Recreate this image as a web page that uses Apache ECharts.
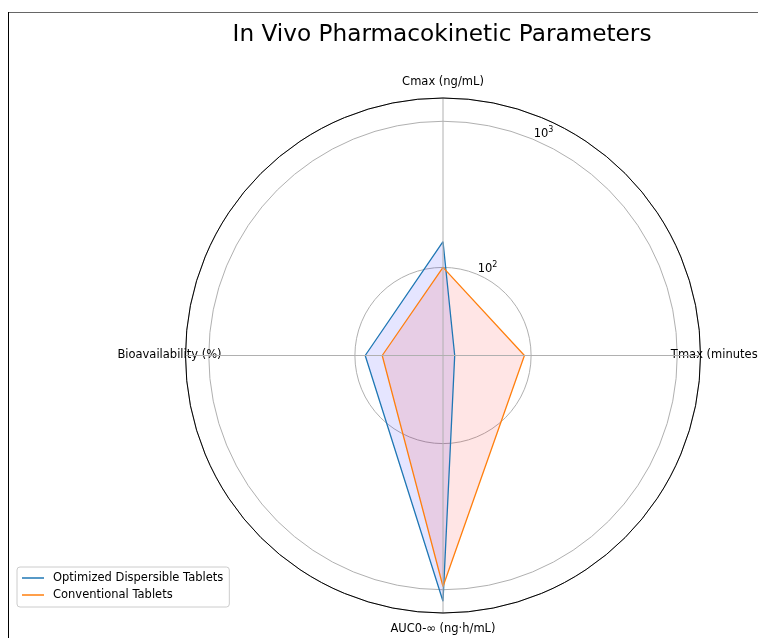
<!DOCTYPE html>
<html>
<head>
<meta charset="utf-8">
<script src="https://cdn.jsdelivr.net/npm/echarts@6/dist/echarts.min.js"></script>
<style>
  html, body { margin: 0; padding: 0; background: #fff; }
  #main { width: 758px; height: 638px; }
</style>
</head>
<body>
<div id="main"></div>
<script>
// categories around the circle, clockwise from the top
var categories = ['Cmax (ng/mL)', 'Tmax (minutes)', 'AUC0-\u221e (ng\u00b7h/mL)', 'Bioavailability (%)'];
var angles = [0, 90, 180, 270];

var optimized = [150, 30, 1200, 85];
var conventional = [100, 90, 950, 65];

// radial tick labels
var rTicks = [100, 1000];
var rTickExp = ['2', '3'];

var seriesNames = ['Optimized Dispersible Tablets', 'Conventional Tablets'];

var font = 'DejaVu Sans';

// log range like matplotlib autoscale: data extent plus 5% margin in log space
var all = optimized.concat(conventional);
var lo = Math.log10(Math.min.apply(null, all));
var hi = Math.log10(Math.max.apply(null, all));
var rMin = Math.pow(10, lo - 0.05 * (hi - lo));
var rMax = Math.pow(10, hi + 0.05 * (hi - lo));

// close the polygon by repeating the first point at 360 degrees
function toPolar(vals) {
    var out = [];
    for (var i = 0; i < vals.length; i++) {
        out.push([vals[i], angles[i]]);
    }
    out.push([vals[0], 360]);
    return out;
}

var chart = echarts.init(document.getElementById('main'), null, {renderer: 'canvas'});

var option = {
    animation: false,
    backgroundColor: '#fff',
    title: {
        text: 'In Vivo Pharmacokinetic Parameters',
        left: 437,
        top: 18,
        textAlign: 'center',
        textStyle: {fontFamily: font, fontSize: 23.2, fontWeight: 'normal', color: '#000'}
    },
    legend: {
        orient: 'vertical',
        left: 17,
        top: 567,
        data: seriesNames,
        icon: 'rect',
        itemWidth: 22,
        itemHeight: 1.5,
        itemGap: 3,
        padding: [4, 6, 5, 5],
        borderColor: '#cccccc',
        borderWidth: 1,
        borderRadius: 3,
        backgroundColor: 'rgba(255,255,255,0.8)',
        textStyle: {fontFamily: font, fontSize: 11.5, lineHeight: 14, color: '#000', padding: [0, 0, 0, 4]}
    },
    polar: {
        center: [443, 355.5],
        radius: 257.5
    },
    angleAxis: {
        type: 'value',
        min: 0,
        max: 360,
        interval: 90,
        startAngle: 90,
        clockwise: true,
        z: 5,
        axisLine: {show: true, lineStyle: {color: '#000', width: 1}},
        axisTick: {show: false},
        axisLabel: {show: false},
        splitLine: {show: true, lineStyle: {color: '#b0b0b0', width: 1}}
    },
    radiusAxis: {
        type: 'log',
        logBase: 10,
        min: rMin,
        max: rMax,
        axisLine: {show: false},
        axisTick: {show: false},
        axisLabel: {show: false},
        splitLine: {show: true, lineStyle: {color: '#b0b0b0', width: 1}}
    },
    series: [
        {
            name: seriesNames[0],
            type: 'line',
            coordinateSystem: 'polar',
            symbol: 'none',
            data: toPolar(optimized),
            lineStyle: {color: '#1f77b4', width: 1.3},
            itemStyle: {color: '#1f77b4'},
            areaStyle: {color: 'rgba(0,0,255,0.1)', opacity: 1}
        },
        {
            name: seriesNames[1],
            type: 'line',
            coordinateSystem: 'polar',
            symbol: 'none',
            data: toPolar(conventional),
            lineStyle: {color: '#ff7f0e', width: 1.3},
            itemStyle: {color: '#ff7f0e'},
            areaStyle: {color: 'rgba(255,0,0,0.1)', opacity: 1}
        }
    ]
};

chart.setOption(option);

// category labels just outside the rim, radial tick labels at 22.5 degrees
var graphics = [];
var c = chart.convertToPixel({seriesIndex: 0}, [rMin, 0]);
for (var i = 0; i < categories.length; i++) {
    var p = chart.convertToPixel({seriesIndex: 0}, [rMax, angles[i]]);
    var dx = p[0] - c[0], dy = p[1] - c[1];
    var len = Math.sqrt(dx * dx + dy * dy);
    graphics.push({
        type: 'text',
        x: p[0] + dx / len * 16,
        y: p[1] + dy / len * 16,
        style: {
            text: categories[i],
            fontFamily: font,
            fontSize: 11.5,
            fill: '#000',
            align: 'center',
            verticalAlign: 'middle'
        }
    });
}
for (var k = 0; k < rTicks.length; k++) {
    var q = chart.convertToPixel({seriesIndex: 0}, [rTicks[k], 22.5]);
    graphics.push({
        type: 'text',
        x: q[0] + 1,
        y: q[1] + 1,
        style: {
            text: '{b|10}{s|' + rTickExp[k] + '}',
            fill: '#000',
            align: 'left',
            verticalAlign: 'bottom',
            rich: {
                b: {fontFamily: font, fontSize: 11.5, lineHeight: 14, verticalAlign: 'bottom'},
                s: {fontFamily: font, fontSize: 8, lineHeight: 14, verticalAlign: 'top'}
            }
        }
    });
}
// figure frame on the left and top edges
graphics.push({type: 'line', shape: {x1: 8, y1: 12.5, x2: 758, y2: 12.5}, style: {stroke: '#666', lineWidth: 1}});
graphics.push({type: 'line', shape: {x1: 8.5, y1: 12, x2: 8.5, y2: 638}, style: {stroke: '#000', lineWidth: 1}});

chart.setOption({graphic: graphics});
</script>
</body>
</html>
